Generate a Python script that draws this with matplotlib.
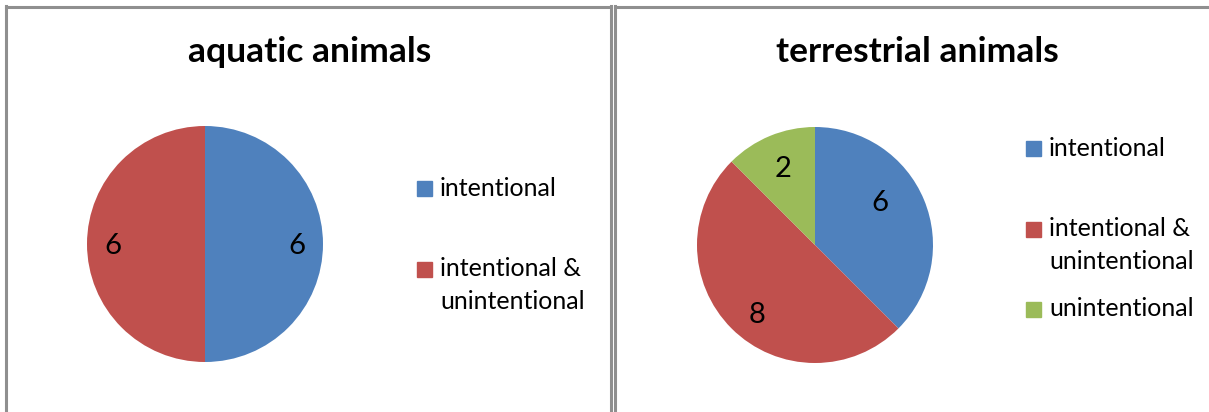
import matplotlib
matplotlib.use("Agg")
import matplotlib.pyplot as plt
from matplotlib.patches import Rectangle
import math

W, H = 1209, 412

aquatic_labels = ["intentional", "intentional &\nunintentional"]
aquatic_values = [6, 6]
terrestrial_labels = ["intentional", "intentional &\nunintentional", "unintentional"]
terrestrial_values = [6, 8, 2]
colors = ["#4F81BD", "#C0504D", "#9BBB59"]

FONT = ["Lato", "DejaVu Sans"]
plt.rcParams['font.family'] = FONT

fig = plt.figure(figsize=(W / 100, H / 100), dpi=100)
fig.patch.set_facecolor("white")

def fx(px):
    return px / W

def fy(py):
    return 1 - py / H

# panel borders
for (x0, x1, right) in [(6, 611, True), (615, 1215, False)]:
    xs = (x0, x1) if right else (x0,)
    for xx in xs:
        fig.add_artist(plt.Line2D([fx(xx), fx(xx)], [fy(6), fy(420)], color="#8f8f8f", lw=2.2,
                                  transform=fig.transFigure))
    fig.add_artist(plt.Line2D([fx(x0), fx(x1)], [fy(6.5), fy(6.5)], color="#8f8f8f", lw=2.2,
                              transform=fig.transFigure))

def draw_pie(cx, cy, r, values, label_radii, angle_shift):
    ax = fig.add_axes([fx(cx - r), fy(cy + r), (2 * r) / W, (2 * r) / H])
    wedges, _ = ax.pie(values, colors=colors[:len(values)], startangle=90, counterclock=False,
                       radius=1.0, wedgeprops=dict(linewidth=0))
    ax.set_xlim(-1, 1)
    ax.set_ylim(-1, 1)
    ax.set_aspect("equal")
    ax.axis("off")
    for w, v, lr, da in zip(wedges, values, label_radii, angle_shift):
        mid = math.radians((w.theta1 + w.theta2) / 2 + da)
        ax.text(lr * math.cos(mid), lr * math.sin(mid), str(v), ha="center", va="center",
                fontsize=21, color="black")
    return ax

draw_pie(205, 244, 118, aquatic_values, [0.78, 0.78], [-1.5, 1.5])
draw_pie(815, 245, 118, terrestrial_values, [0.655, 0.77, 0.70], [10.5, 5, 0])

fig.text(fx(310), fy(62), "aquatic animals", ha="center", va="baseline", fontsize=25.5,
         fontweight="bold")
fig.text(fx(917), fy(62), "terrestrial animals", ha="center", va="baseline", fontsize=25.5,
         fontweight="bold")

def legend(sq_x, ys, labels):
    for i, (lab, y) in enumerate(zip(labels, ys)):
        fig.add_artist(Rectangle((fx(sq_x), fy(y + 7.5)), 15 / W, 15 / H, color=colors[i],
                                 transform=fig.transFigure))
        lines = lab.split("\n")
        for j, line in enumerate(lines):
            fig.text(fx(sq_x + 23), fy(y + j * 32.5), line, ha="left", va="center",
                     fontsize=18)

legend(417, [188, 269], aquatic_labels)
legend(1026, [148, 229, 309], terrestrial_labels)

fig.savefig("out.png", dpi=100, facecolor="white")
